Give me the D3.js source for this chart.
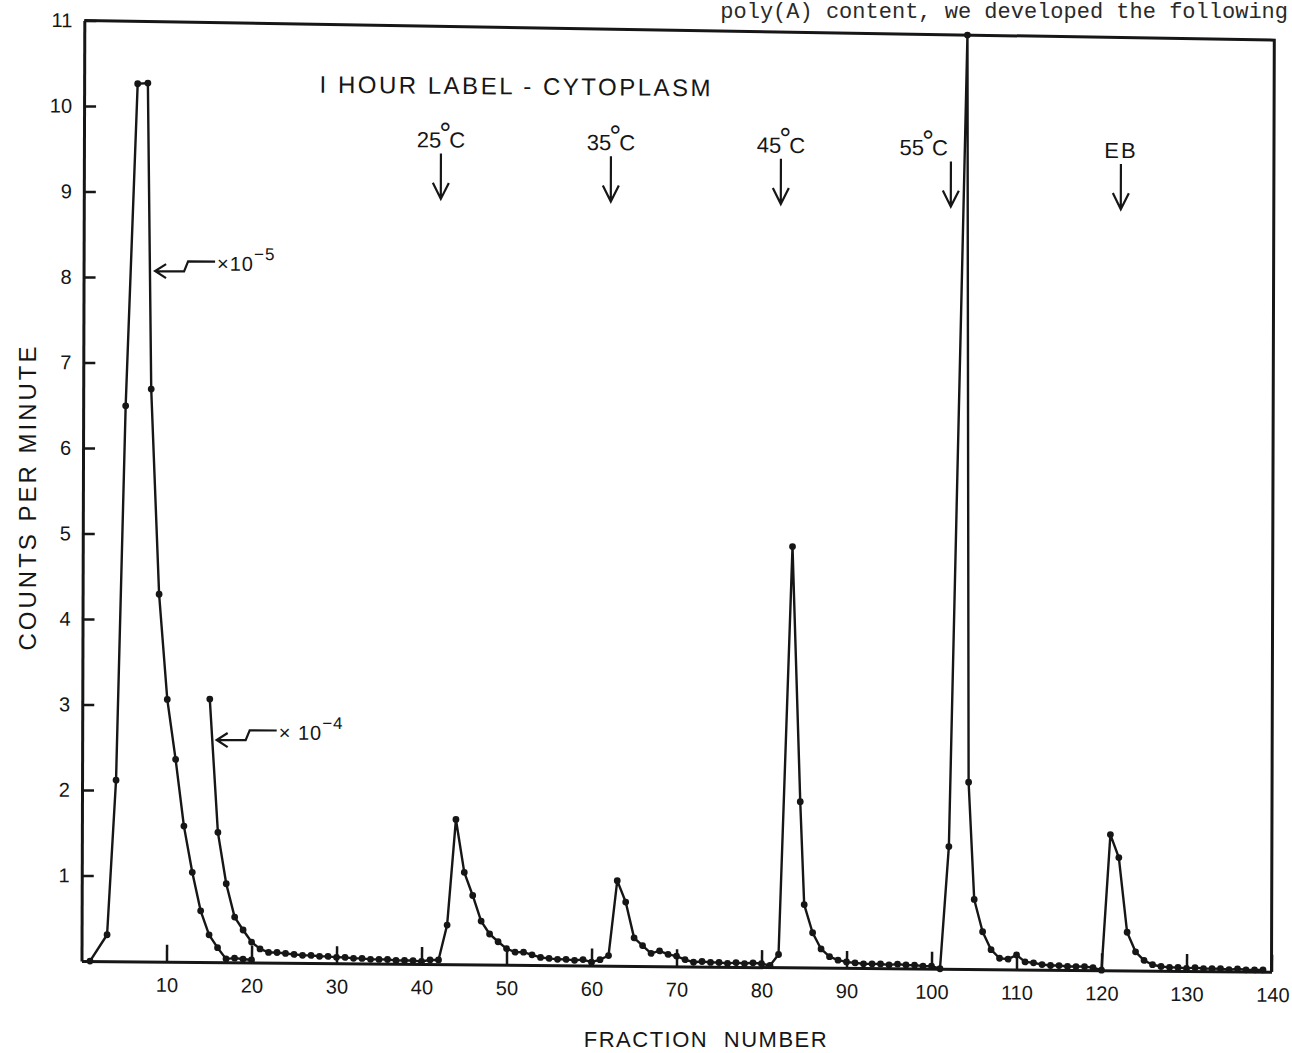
<!DOCTYPE html>
<html>
<head>
<meta charset="utf-8">
<script src="https://cdn.jsdelivr.net/npm/d3@7"></script>
<style>
  body { margin: 0; background: #fff; }
  svg { display: block; }
  text { font-family: "Liberation Sans", Arial, sans-serif; fill: #161616; }
</style>
</head>
<body>
<div id="chart"></div>
<script>
// ---- data ----
// early peak, plotted x10^-5
var fracA = [1, 3, 4, 5, 6.3, 7.5, 8, 9, 10, 11, 12, 13, 14, 15, 16, 17, 18, 19, 20];
var cpmA  = [0, 0.31, 2.12, 6.5, 10.27, 10.28, 6.7, 4.3, 3.07, 2.37, 1.59, 1.05, 0.6, 0.32, 0.17, 0.04, 0.05, 0.04, 0.03];

// rest of the profile, plotted x10^-4
var fracB = [15, 16, 17, 18, 19, 20, 21, 22, 23, 24, 25, 26, 27, 28, 29, 30, 31, 32, 33, 34,
             35, 36, 37, 38, 39, 40, 41, 42, 43, 44, 45, 46, 47, 48, 49, 50, 51, 52, 53, 54,
             55, 56, 57, 58, 59, 60, 61, 62, 63, 64, 65, 66, 67, 68, 69, 70, 71, 72, 73, 74,
             75, 76, 77, 78, 79, 80, 81, 82, 83.5, 84.5, 85, 86, 87, 88, 89, 90, 91, 92, 93, 94,
             95, 96, 97, 98, 99, 100, 101, 102, 103.9, 104.3, 105, 106, 107, 108, 109, 110, 111, 112, 113, 114,
             115, 116, 117, 118, 119, 120, 121, 122, 123, 124, 125, 126, 127, 128, 129, 130, 131, 132, 133, 134,
             135, 136, 137, 138, 139];
var cpmB  = [3.08, 1.52, 0.92, 0.53, 0.38, 0.24, 0.16, 0.12, 0.12, 0.11, 0.10, 0.09, 0.09, 0.08, 0.08, 0.07, 0.07, 0.06, 0.06, 0.05,
             0.05, 0.05, 0.04, 0.04, 0.04, 0.03, 0.05, 0.05, 0.46, 1.70, 1.08, 0.81, 0.51, 0.36, 0.27, 0.19, 0.15, 0.15, 0.12, 0.09,
             0.08, 0.07, 0.07, 0.06, 0.07, 0.04, 0.07, 0.12, 1.00, 0.75, 0.33, 0.24, 0.15, 0.18, 0.14, 0.12, 0.08, 0.05, 0.06, 0.05,
             0.05, 0.04, 0.05, 0.04, 0.05, 0.04, 0.02, 0.15, 4.95, 1.95, 0.74, 0.41, 0.22, 0.13, 0.09, 0.07, 0.06, 0.05, 0.05, 0.05,
             0.04, 0.05, 0.04, 0.04, 0.03, 0.03, 0.00, 1.44, 11.0, 2.2, 0.82, 0.44, 0.23, 0.13, 0.12, 0.17, 0.09, 0.08, 0.06, 0.05,
             0.05, 0.04, 0.04, 0.04, 0.03, 0.00, 1.60, 1.33, 0.45, 0.22, 0.12, 0.07, 0.05, 0.04, 0.04, 0.03, 0.04, 0.03, 0.03, 0.03,
             0.02, 0.03, 0.02, 0.02, 0.02];

// elution steps marked with arrows
var stepFrac   = [42, 62, 82, 102, 122];
var stepLabels = ["25°C", "35°C", "45°C", "55°C", "EB"];

var xTicks = [10, 20, 30, 40, 50, 60, 70, 80, 90, 100, 110, 120, 130, 140];
var yTicks = [1, 2, 3, 4, 5, 6, 7, 8, 9, 10, 11];

// ---- layout ----
var width = 1292, height = 1053;
var ink = "#161616";

var x = d3.scaleLinear().domain([0, 140]).range([81.5, 1271.5]);
var y = d3.scaleLinear().domain([0, 11]).range([961, 20.5]);

var svg = d3.select("#chart").append("svg")
	.attr("width", width)
	.attr("height", height);

svg.append("rect").attr("width", width).attr("height", height).attr("fill", "#fff");

// the scanned page sits a little crooked, shear the plot to follow it
var g = svg.append("g")
	.attr("transform", "matrix(1,0.009,-0.003,1," + (0.003 * y(0)) + "," + (-0.009 * x(0)) + ")");

// top of the frame drops more than the bottom (keystone) - extra drop grows with height
var K = 0.0075;
function lift(px, py) {
	return K * (px - x(0)) * (y(0) - py) / (y(0) - y(11));
}
function P(px, py) { return [px, py + lift(px, py)]; }

// ---- axes ----
var xAxis = g.append("g")
	.attr("transform", "translate(0," + y(0) + ")")
	.call(d3.axisBottom(x).tickValues(xTicks).tickSizeInner(-17).tickSizeOuter(0).tickPadding(16)
		.tickFormat(d3.format("d")));
xAxis.attr("font-size", 20);
xAxis.select(".domain").attr("stroke", ink).attr("stroke-width", 3);
xAxis.selectAll(".tick line").attr("stroke", ink).attr("stroke-width", 2.5);
xAxis.selectAll(".tick text").attr("dx", function(d) { return d === 140 ? 1 : 0; });

var yAxis = g.append("g")
	.attr("transform", "translate(" + x(0) + ",0)")
	.call(d3.axisLeft(y).tickValues(yTicks).tickSizeInner(-12).tickSizeOuter(0).tickPadding(12)
		.tickFormat(d3.format("d")));
yAxis.attr("font-size", 20);
yAxis.select(".domain").attr("stroke", ink).attr("stroke-width", 3);
yAxis.selectAll(".tick line").attr("stroke", ink).attr("stroke-width", 2.5);

// top and right of the frame
var frame = [P(x(0), y(11)), P(x(140), y(11)), P(x(140), y(0))];
g.append("path")
	.attr("d", d3.line()(frame))
	.attr("fill", "none")
	.attr("stroke", ink)
	.attr("stroke-width", 3);

// ---- data ----
function series(fr, vals) {
	return fr.map(function(f, i) { return P(x(f), y(vals[i])); });
}
var line = d3.line();

[series(fracA, cpmA), series(fracB, cpmB)].forEach(function(pts) {
	g.append("path")
		.attr("d", line(pts))
		.attr("fill", "none")
		.attr("stroke", ink)
		.attr("stroke-width", 2.4)
		.attr("stroke-linejoin", "round");

	g.append("g").selectAll("circle")
		.data(pts)
		.enter()
		.append("circle")
		.attr("cx", function(d) { return d[0]; })
		.attr("cy", function(d) { return d[1]; })
		.attr("r", 3.4)
		.attr("fill", ink);
});

// ---- annotations ----
var head = P(317, 89);
g.append("text")
	.attr("x", head[0]).attr("y", head[1])
	.style("font-size", "24px")
	.style("letter-spacing", "2.5px")
	.text("I HOUR LABEL - CYTOPLASM");

stepFrac.forEach(function(f, i) {
	var ax = x(f);
	var top = P(ax, 148), bot = P(ax, 193.5);
	g.append("path")
		.attr("d", "M" + top[0] + "," + top[1] + "L" + bot[0] + "," + bot[1] +
			"M" + (bot[0] - 8) + "," + (bot[1] - 16) + "L" + bot[0] + "," + bot[1] + "L" + (bot[0] + 8) + "," + (bot[1] - 16))
		.attr("fill", "none")
		.attr("stroke", ink)
		.attr("stroke-width", 2.2);

	var lp = P(i === 3 ? ax - 3 : ax, 142);
	var t = g.append("text")
		.attr("x", lp[0]).attr("y", lp[1])
		.attr("text-anchor", i === 3 ? "end" : "middle")
		.style("font-size", "22px");
	var parts = stepLabels[i].split("°");
	if (parts.length > 1) {
		t.append("tspan").text(parts[0]);
		t.append("tspan").attr("dy", -4).attr("dx", -2).style("font-size", "30px").text("°");
		t.append("tspan").attr("dy", 4).attr("dx", -2).text(parts[1]);
	} else {
		t.text(stepLabels[i]).style("letter-spacing", "2px");
	}
});

// broken arrows with the scale factors
function scaleNote(tip, base, exp) {
	var p = P(tip[0], tip[1]), tx = p[0], ty = p[1];
	g.append("path")
		.attr("d", "M" + (tx + 11) + "," + (ty - 7) + "L" + tx + "," + ty + "L" + (tx + 11) + "," + (ty + 7) +
			"M" + tx + "," + ty + "H" + (tx + 29) + "L" + (tx + 33) + "," + (ty - 10) + "H" + (tx + 60))
		.attr("fill", "none")
		.attr("stroke", ink)
		.attr("stroke-width", 2.2);
	var t = g.append("text")
		.attr("x", tx + 62).attr("y", ty - 1)
		.style("font-size", "20px")
		.style("letter-spacing", "1px");
	t.append("tspan").text(base);
	t.append("tspan").attr("dy", -11).style("font-size", "17px").text(exp);
}
scaleNote([153, 270], "×10", "−5");
scaleNote([216, 738.5], "× 10", "−4");

// ---- titles ----
svg.append("text")
	.attr("transform", "translate(27,497) rotate(-90)")
	.attr("text-anchor", "middle")
	.attr("dominant-baseline", "central")
	.style("font-size", "24px")
	.style("letter-spacing", "3px")
	.text("COUNTS PER MINUTE");

svg.append("text")
	.attr("x", 706).attr("y", 1047)
	.attr("text-anchor", "middle")
	.style("font-size", "22px")
	.style("letter-spacing", "1.5px")
	.style("word-spacing", "8px")
	.text("FRACTION NUMBER");

// bit of the typed page showing above the figure
svg.append("text")
	.attr("x", 1288).attr("y", 18)
	.attr("text-anchor", "end")
	.style("font-family", "'Liberation Mono', monospace")
	.style("font-size", "22px")
	.style("fill", "#2a2a2a")
	.text("poly(A) content, we developed the following");
</script>
</body>
</html>
